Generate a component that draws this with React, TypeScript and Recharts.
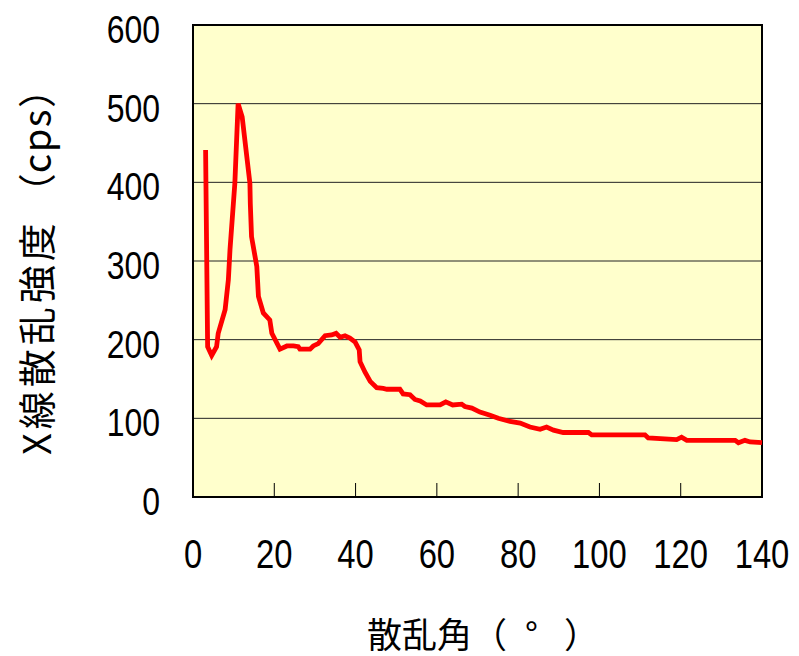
import React from "react";
import {
  CartesianGrid, Label, Line, LineChart, ReferenceArea, XAxis, YAxis,
} from "recharts";

// scattering angle (deg) and intensity (cps)
const angles = [
  3.1, 3.6, 4.6, 5.8, 6.2, 7.9, 8.7, 9.1, 10.3, 11.1, 12.1, 14.0, 14.1, 14.4,
  15.7, 16.1, 17.3, 18.9, 19.4, 21.4, 23.1, 24.7, 25.9, 26.3, 28.8, 29.6, 30.8,
  32.5, 34.1, 35.2, 36.2, 37.4, 38.6, 39.9, 40.9, 41.1, 42.3, 43.6, 45.2, 46.8,
  47.7, 50.9, 51.7, 53.4, 54.6, 55.9, 57.5, 60.8, 62.2, 63.9, 66.1, 66.9, 68.6,
  70.6, 73.1, 75.1, 78.0, 80.5, 82.9, 85.4, 87.0, 88.7, 91.1, 97.3, 98.1, 111.2,
  112.0, 119.0, 120.2, 121.5, 133.4, 134.2, 135.8, 137.1, 140,
];
const intensity = [
  441, 191, 180, 191, 208, 238, 276, 314, 399, 500, 483, 399, 373, 331,
  293, 255, 234, 225, 208, 188, 192, 192, 191, 188, 188, 192, 195,
  205, 206, 208, 203, 205, 202, 197, 187, 172, 159, 147, 139, 138,
  137, 137, 131, 130, 124, 122, 117, 117, 121, 117, 118, 115, 113,
  108, 104, 100, 96, 94, 89, 86, 89, 85, 82, 82, 79, 79,
  75, 73, 76, 72, 72, 69, 72, 70, 69,
];
const xTicks = [0, 20, 40, 60, 80, 100, 120, 140];
const yTicks = [0, 100, 200, 300, 400, 500, 600];

const data = angles.map((a, i) => ({ angle: a, cps: intensity[i] }));

const numFont = "'Liberation Sans', Arial, sans-serif";
const jpFont = "'Noto Sans CJK JP', sans-serif";

function XTick({ x, y, payload }: any) {
  const v = payload.value;
  const edge = v === xTicks[0] || v === xTicks[xTicks.length - 1];
  return (
    <g>
      {!edge && <line x1={x} x2={x} y1={y} y2={y - 14} stroke="#000" strokeWidth={1} />}
      <g transform={`translate(${x},${y + 57})`}>
        <text transform="scale(0.82,1)" textAnchor="middle" dominantBaseline="central"
          fontFamily={numFont} fontSize={40} fill="#000">{v}</text>
      </g>
    </g>
  );
}

function YTick({ x, y, payload }: any) {
  return (
    <g transform={`translate(${x - 33},${y + 5})`}>
      <text transform="scale(0.82,1)" textAnchor="end" dominantBaseline="central"
        fontFamily={numFont} fontSize={39} fill="#000">{payload.value}</text>
    </g>
  );
}

export default function App() {
  return (
    <div style={{ position: "absolute", left: 0, top: 0, width: 799, height: 656, background: "#fff" }}>
      <LineChart width={799} height={656} data={data}
        margin={{ top: 25, right: 37, left: 0, bottom: 0 }}>
        <CartesianGrid vertical={false} fill="#FFFFCC" stroke="#222" strokeWidth={1} />
        <XAxis dataKey="angle" type="number" domain={[0, 140]} ticks={xTicks}
          height={159} axisLine={false} tickLine={false} tickSize={0} tickMargin={0}
          tick={<XTick />} interval={0}>
          <Label content={({ viewBox }: any) => (
            <text x={viewBox.x + 174} y={viewBox.y + 135}
              textAnchor="start" dominantBaseline="central"
              fontFamily={jpFont} fontSize={35} fill="#000">
              散乱角（<tspan dx={18}>°</tspan><tspan dx={26}>）</tspan>
            </text>
          )} />
        </XAxis>
        <YAxis type="number" domain={[0, 600]} ticks={yTicks} width={193}
          axisLine={false} tickLine={false} tickSize={0} tickMargin={0}
          tick={<YTick />} interval={0}>
          <Label content={({ viewBox }: any) => {
            const cx = viewBox.x + 34;
            const cy = 455;
            return (
              <text x={cx} y={cy} transform={`rotate(-90,${cx},${cy})`}
                textAnchor="start" dominantBaseline="central"
                fontFamily={jpFont} fontSize={38} fill="#000">
                <tspan letterSpacing={4}>X線散乱強度</tspan>
                <tspan dx={8}>（</tspan><tspan letterSpacing={1.5}>cps</tspan>）
              </text>
            );
          }} />
        </YAxis>
        <ReferenceArea x1={0} x2={140} y1={0} y2={600} fill="none" fillOpacity={0}
          stroke="#000" strokeWidth={2} ifOverflow="visible" />
        <Line type="linear" dataKey="cps" stroke="#FF0000" strokeWidth={4.8}
          dot={false} activeDot={false} isAnimationActive={false} />
      </LineChart>
    </div>
  );
}
